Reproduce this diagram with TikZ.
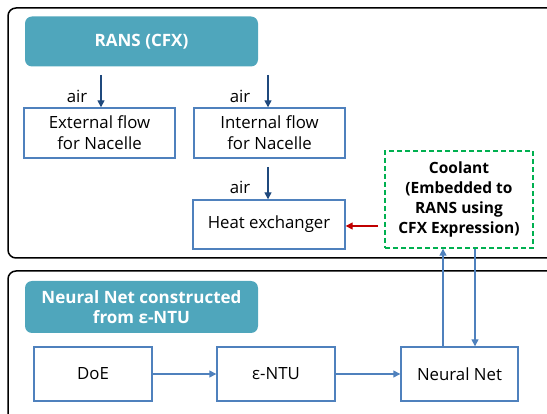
\documentclass[tikz,border=0pt]{standalone}
\usepackage{fontspec}
\setmainfont{Open Sans}
\usetikzlibrary{arrows.meta,calc}
\definecolor{boxblue}{RGB}{79,129,189}
\definecolor{darkblue}{RGB}{31,73,125}
\definecolor{teal}{RGB}{79,166,188}
\definecolor{cgreen}{RGB}{0,176,80}
\definecolor{cred}{RGB}{192,0,0}
\tikzset{
  frame/.style={draw=black,line width=1.5pt,rounded corners=8pt},
  header/.style={fill=teal,rounded corners=7pt,text=white,font=\fontsize{17}{20}\selectfont\bfseries,align=center,inner sep=0pt},
  bluebox/.style={draw=boxblue,line width=1.4pt,fill=white,font=\fontsize{16.8}{21}\selectfont,align=center,inner sep=0pt},
  coolbox/.style={draw=cgreen,line width=1.4pt,dashed,dash pattern=on 5pt off 3pt,fill=white,font=\fontsize{15.5}{20}\selectfont\bfseries,align=center,inner sep=0pt},
  airarrow/.style={draw=darkblue,line width=1.4pt,-{Triangle[length=7pt,width=7pt]}},
  linkarrow/.style={draw=boxblue,line width=1.4pt,-{Triangle[length=7pt,width=7pt]}},
  redarrow/.style={draw=cred,line width=1.4pt,-{Triangle[length=7pt,width=7pt]}},
  airlabel/.style={font=\fontsize{16.8}{19}\selectfont,inner sep=0pt}
}
\begin{document}
\begin{tikzpicture}[x=1pt,y=-1pt]
\useasboundingbox (0,0) rectangle (547,414);
\clip (0,0) rectangle (547,414);
\draw[frame] (8,8) rectangle (570,258);
\draw[frame] (8,271) rectangle (570,440);

\node[header,minimum width=233pt,minimum height=50pt] (rans) at (141.5,41.5) {RANS (CFX)};
\node[bluebox,minimum width=151pt,minimum height=50pt] (ext) at (99.5,133) {External flow\\for Nacelle};
\node[bluebox,minimum width=151pt,minimum height=50pt] (int) at (269.5,133) {Internal flow\\for Nacelle};
\node[bluebox,minimum width=152pt,minimum height=49pt] (hx) at (269,224.5) {Heat exchanger};
\node[coolbox,minimum width=148pt,minimum height=97pt] (cool) at (459,199.5) {Coolant\\(Embedded to\\RANS using\\CFX Expression)};

\node[header,minimum width=233pt,minimum height=52pt] (nnhead) at (141.5,307) {Neural Net constructed\\from ε-NTU};
\node[bluebox,minimum width=118pt,minimum height=54pt] (doe) at (93,374) {DoE};
\node[bluebox,minimum width=118pt,minimum height=54pt] (entu) at (276,374) {ε-NTU};
\node[bluebox,minimum width=117pt,minimum height=54pt] (nn) at (459.5,374) {Neural Net};

\coordinate (s1) at (101,75);
\coordinate (s2) at (268,75);
\coordinate (s3) at (268,167);
\coordinate (s4) at (378,226);
\coordinate (up) at (443,0);
\coordinate (dn) at (475,0);

\draw[airarrow] (s1) -- (s1 |- ext.north);
\draw[airarrow] (s2) -- (s2 |- int.north);
\draw[airarrow] (s3) -- (s3 |- hx.north);
\draw[redarrow] (s4) -- (s4 -| hx.east);

\node[airlabel] (l1) at (77,96) {air};
\node[airlabel] (l2) at (240,96) {air};
\node[airlabel] (l3) at (240,187) {air};

\draw[linkarrow] (up |- nn.north) -- (up |- cool.south);
\draw[linkarrow] (dn |- cool.south) -- (dn |- nn.north);
\draw[linkarrow] (doe) -- (entu);
\draw[linkarrow] (entu) -- (nn);
\end{tikzpicture}
\end{document}
